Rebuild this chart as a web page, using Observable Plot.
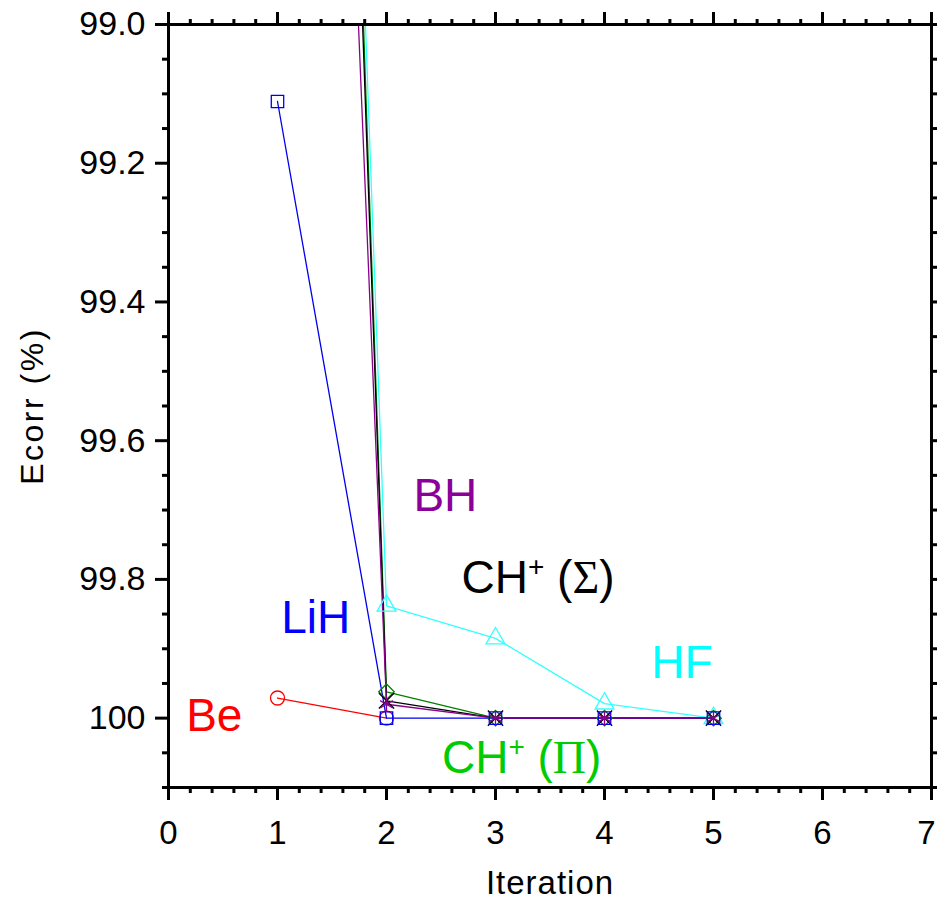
<!DOCTYPE html>
<html>
<head>
<meta charset="utf-8">
<script src="https://cdn.jsdelivr.net/npm/d3@7"></script>
<script src="https://cdn.jsdelivr.net/npm/@observablehq/plot@0.6"></script>
<style>
  html, body { margin: 0; padding: 0; background: #fff; }
  #chart { width: 937px; height: 904px; }
</style>
</head>
<body>
<div id="chart"></div>
<script>
// ---- Data ----
const iterations = [1, 2, 3, 4, 5];
const beIter = [1, 2];
const beValues = [99.971, 100.0];
const lihValues = [99.111, 100.0, 100.0, 100.0, 100.0];
const bhValues = [96.17, 99.98, 100.0, 100.0, 100.0];
const chSigmaValues = [95.53, 99.975, 100.0, 100.0, 100.0];
const chPiValues = [95.4, 99.962, 100.0, 100.0, 100.0];
const hfValues = [95.49, 99.838, 99.885, 99.979, 100.0];

const xMajorTicks = [0, 1, 2, 3, 4, 5, 6, 7];
const yMajorTicks = [99.0, 99.2, 99.4, 99.6, 99.8, 100.0];

// series label annotations (data coordinates)
const labelTexts = ["BH", "CH+ (Σ)", "LiH", "HF", "Be", "CH+ (Π)"];
const labelXs = [2.54, 3.39, 1.35, 4.71, 0.42, 3.24];
const labelYs = [99.68, 99.798, 99.856, 99.921, 99.997, 100.058];
const labelColors = ["#8b0099", "#000000", "#0000ff", "#00ffff", "#ff0000", "#00cc00"];

// ---- Build tables ----
const xMinorTicks = d3.range(0, 35).map(i => i * 0.2).concat([7]).filter(v => Math.abs(v - Math.round(v)) > 1e-6);
const yMinorTicks = d3.range(0, 23).map(i => 99 + i * 0.05).filter(v => Math.abs(v * 5 - Math.round(v * 5)) > 1e-6);

function table(xs, ys) { return xs.map((x, i) => ({x, y: ys[i]})); }
// drawing order: BH on top
const series = [
  {name: "Be", data: table(beIter, beValues), line: "#ff0000", sym: "circle"},
  {name: "HF", data: table(iterations, hfValues), line: "#33ffff", sym: "triangle"},
  {name: "CHP", data: table(iterations, chPiValues), line: "#008000", sym: "diamond2"},
  {name: "CHS", data: table(iterations, chSigmaValues), line: "#000000", sym: "times"},
  {name: "LiH", data: table(iterations, lihValues), line: "#0000ee", sym: "square"},
  {name: "BH", data: table(iterations, bhValues), line: "#8b008b", sym: "asterisk"}
];
const labels = labelTexts.map((t, i) => ({t, x: labelXs[i], y: labelYs[i], c: labelColors[i]}));

const seriesMarks = series.map(s =>
  Plot.line(s.data, {x: "x", y: "y", stroke: s.line, strokeWidth: 1.3, clip: true})
).concat(series.map(s =>
  Plot.dot(s.data, {x: "x", y: "y", stroke: s.line, fill: "none", symbol: s.sym, r: 7, strokeWidth: 1.3, clip: true})
));

const fmtY = d => (Math.abs(d - 100) < 1e-9 ? "100" : d.toFixed(1));
const noText = () => "";

const chart = Plot.plot({
  width: 937,
  height: 904,
  marginLeft: 168,
  marginRight: 6,
  marginTop: 24,
  marginBottom: 117,
  x: {domain: [0, 7]},
  y: {domain: [100.1, 99.0]},
  style: {fontFamily: "'Liberation Sans', Arial, sans-serif", fontSize: "32px", color: "#000", background: "#fff"},
  marks: [
    ...seriesMarks,
    Plot.text(labels, {x: "x", y: "y", text: "t", fill: "c", fontSize: 46, className: "series-label"}),
    Plot.axisX({anchor: "bottom", ticks: xMajorTicks, tickSize: 13, tickPadding: 20, strokeWidth: 3, fontSize: 33, label: null, tickFormat: d => String(d), className: "xlabels"}),
    Plot.axisX({anchor: "bottom", ticks: xMinorTicks, tickSize: 6, strokeWidth: 3, label: null, tickFormat: noText}),
    Plot.axisX({anchor: "top", ticks: xMajorTicks, tickSize: 13, strokeWidth: 3, label: null, tickFormat: noText}),
    Plot.axisX({anchor: "top", ticks: xMinorTicks, tickSize: 6, strokeWidth: 3, label: null, tickFormat: noText}),
    Plot.axisY({anchor: "left", ticks: yMajorTicks, tickSize: 13, tickPadding: 10, strokeWidth: 3, fontSize: 34, label: null, tickFormat: fmtY}),
    Plot.axisY({anchor: "left", ticks: yMinorTicks, tickSize: 6, strokeWidth: 3, label: null, tickFormat: noText}),
    Plot.axisY({anchor: "right", ticks: yMajorTicks, tickSize: 13, strokeWidth: 3, label: null, tickFormat: noText}),
    Plot.axisY({anchor: "right", ticks: yMinorTicks, tickSize: 6, strokeWidth: 3, label: null, tickFormat: noText}),
    Plot.frame({stroke: "#000", strokeWidth: 3}),
    Plot.text(["Ecorr (%)"], {frameAnchor: "left", textAnchor: "middle", rotate: -90, dx: -136, fontSize: 32, fill: "#000", className: "ytitle"}),
    Plot.text(["Iteration"], {frameAnchor: "bottom", textAnchor: "middle", dy: 106, fontSize: 33, fill: "#000", className: "xtitle"})
  ]
});

document.getElementById("chart").appendChild(chart);

d3.select(chart).selectAll(".ytitle text").attr("letter-spacing", 2.5);
d3.select(chart).selectAll(".xtitle text").attr("letter-spacing", 1);
// keep the last x tick label inside the picture
d3.select(chart).selectAll("text").filter(function () { return this.textContent === "7"; }).attr("dx", -5);

// Superscript "+" and serif Greek letters in the CH+ labels
d3.select(chart).selectAll(".series-label text").each(function () {
  const el = d3.select(this);
  const txt = el.text();
  const m = txt.match(/^CH\+ \((.)\)$/);
  if (!m) return;
  el.text(null);
  el.append("tspan").text("CH");
  el.append("tspan").attr("font-size", 28).attr("dy", -17).text("+");
  el.append("tspan").attr("dy", 17).text(" (");
  el.append("tspan").attr("font-family", "'Liberation Serif', 'Times New Roman', serif").text(m[1]);
  el.append("tspan").text(")");
});
</script>
</body>
</html>
